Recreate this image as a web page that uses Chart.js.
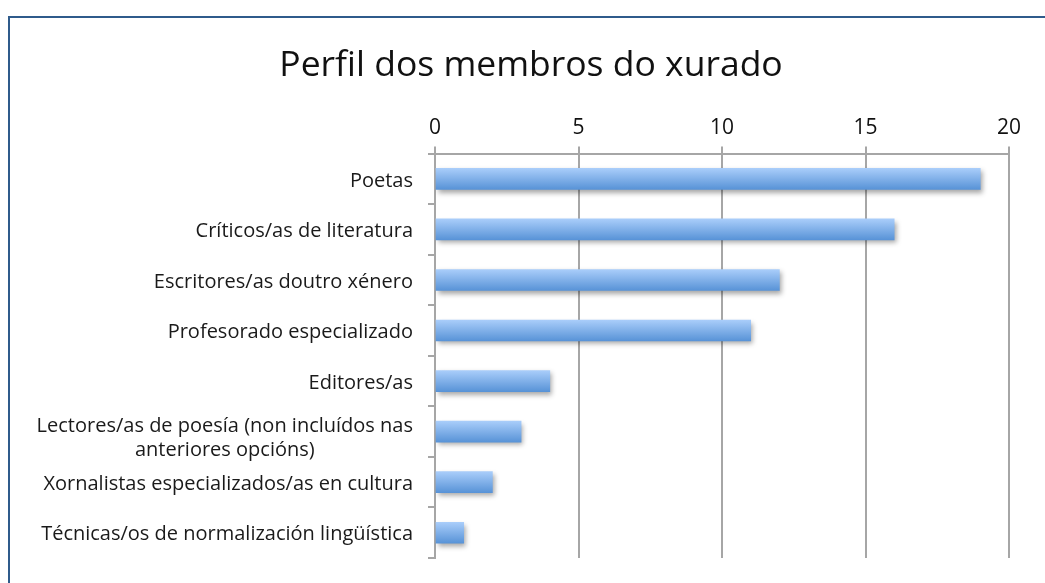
<!DOCTYPE html>
<html>
<head>
<meta charset="utf-8">
<script src="https://cdn.jsdelivr.net/npm/chart.js@4.4.1/dist/chart.umd.min.js"></script>
<style>
  html, body { margin: 0; padding: 0; background: #ffffff; }
  #wrap { position: relative; width: 1045px; height: 583px; overflow: hidden; }
  #frame { position: absolute; left: 8px; top: 16px; width: 2000px; height: 2000px;
           border-left: 2px solid #2f5b8b; border-top: 2px solid #2f5b8b; pointer-events: none; }
  #c { position: absolute; left: 0; top: 0; }
</style>
</head>
<body>
<div id="wrap">
  <canvas id="c" width="1045" height="583"></canvas>
  <div id="frame"></div>
</div>
<script>
const titleText = "Perfil dos membros do xurado";
const categories = [
  "Poetas",
  "Críticos/as de literatura",
  "Escritores/as doutro xénero",
  "Profesorado especializado",
  "Editores/as",
  ["Lectores/as de poesía (non incluídos nas", "anteriores opcións)"],
  "Xornalistas especializados/as en cultura",
  "Técnicas/os de normalización lingüística"
];
const values = [19, 16, 12, 11, 4, 3, 2, 1];
const xTicks = [0, 5, 10, 15, 20];

const FONT = "'Open Sans', Lato, sans-serif";
const Y_LABEL_FONT = "20px " + FONT;
const Y_LABEL_RIGHT = 413;
const BAR_THICKNESS = 21;

function barGradient(context) {
  const chart = context.chart;
  const ys = chart.scales.y;
  if (!ys || !chart.chartArea || context.dataIndex === undefined) return '#7fb0ea';
  const y = ys.getPixelForValue(context.dataIndex);
  if (!Number.isFinite(y)) return '#7fb0ea';
  const g = chart.ctx.createLinearGradient(0, y - BAR_THICKNESS / 2, 0, y + BAR_THICKNESS / 2);
  g.addColorStop(0, '#a9cdfa');
  g.addColorStop(1, '#5893d7');
  return g;
}

const barShadow = {
  id: 'barShadow',
  beforeDatasetsDraw(chart) {
    const ctx = chart.ctx;
    ctx.save();
    ctx.shadowColor = 'rgba(0,0,0,0.35)';
    ctx.shadowBlur = 5;
    ctx.shadowOffsetX = 2;
    ctx.shadowOffsetY = 3;
  },
  afterDatasetsDraw(chart) {
    chart.ctx.restore();
  }
};

const yLabels = {
  id: 'yLabels',
  afterDraw(chart) {
    const ctx = chart.ctx;
    const ys = chart.scales.y;
    ctx.save();
    ctx.font = Y_LABEL_FONT;
    ctx.fillStyle = '#1a1a1a';
    ctx.textBaseline = 'middle';
    categories.forEach((lab, i) => {
      const y = ys.getPixelForValue(i);
      if (Array.isArray(lab)) {
        const w1 = ctx.measureText(lab[0]).width;
        const cx = Y_LABEL_RIGHT - w1 / 2;
        ctx.textAlign = 'center';
        ctx.fillText(lab[0], cx, y - 5);
        ctx.fillText(lab[1], cx, y + 19);
      } else {
        ctx.textAlign = 'right';
        ctx.fillText(lab, Y_LABEL_RIGHT, y + 2);
      }
    });
    ctx.restore();
  }
};

new Chart(document.getElementById('c'), {
  type: 'bar',
  data: {
    labels: categories,
    datasets: [{
      data: values,
      backgroundColor: barGradient,
      borderWidth: 0,
      barThickness: BAR_THICKNESS
    }]
  },
  options: {
    indexAxis: 'y',
    responsive: false,
    animation: false,
    layout: { padding: { left: 53, right: 36, top: 45, bottom: 25 } },
    plugins: {
      legend: { display: false },
      tooltip: { enabled: false },
      title: {
        display: true,
        text: titleText,
        color: '#111111',
        font: { family: FONT, size: 35.5, weight: 'normal' },
        padding: { top: 0, bottom: 0 }
      }
    },
    scales: {
      x: {
        position: 'top',
        min: 0,
        max: 20,
        afterBuildTicks(scale) { scale.ticks = xTicks.map(v => ({ value: v })); },
        afterFit(scale) { scale.height = 66; },
        ticks: {
          color: '#111111',
          font: { family: FONT, size: 21 },
          padding: 6
        },
        grid: { color: '#a6a6a6', lineWidth: 2, tickLength: 7, tickColor: '#a6a6a6' },
        border: { color: '#a6a6a6', width: 2 }
      },
      y: {
        afterFit(scale) { scale.width = 382; },
        ticks: { display: false },
        grid: { drawOnChartArea: false, offset: true, tickLength: 7, color: '#a6a6a6', lineWidth: 2 },
        border: { color: '#a6a6a6', width: 2 }
      }
    }
  },
  plugins: [barShadow, yLabels]
});
</script>
</body>
</html>
